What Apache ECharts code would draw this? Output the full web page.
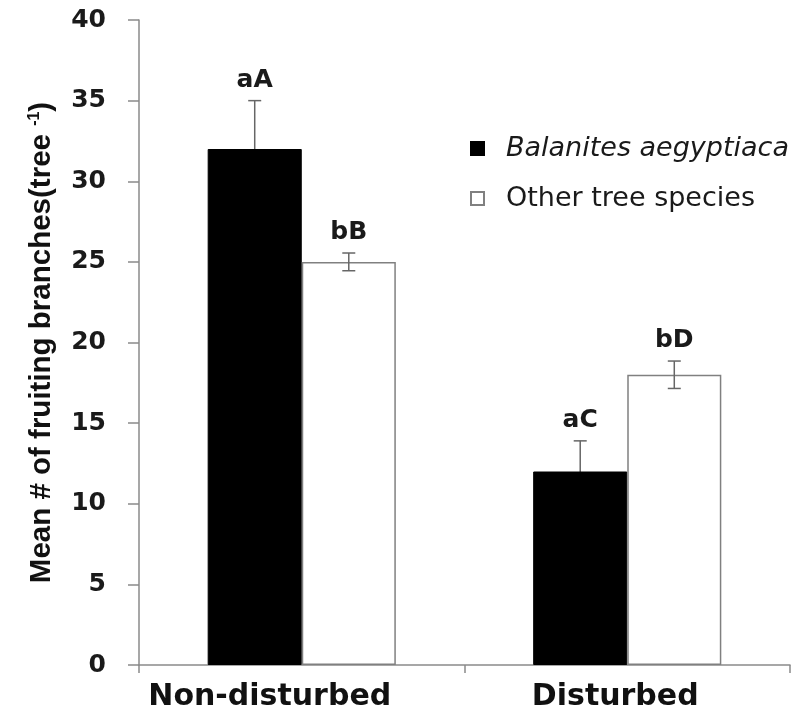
<!DOCTYPE html>
<html>
<head>
<meta charset="utf-8">
<script src="https://cdn.jsdelivr.net/npm/echarts@6/dist/echarts.min.js"></script>
<style>
  html, body { margin: 0; padding: 0; background: #fff; }
  #chart { width: 796px; height: 711px; }
</style>
</head>
<body>
<div id="chart"></div>
<script>
const categories = ['Non-disturbed', 'Disturbed'];
const balanitesMeans = [32, 12];
const balanitesErrors = [3, 1.9];
const otherMeans = [25, 18];
const otherErrors = [0.55, 0.85];
const balanitesLetters = ['aA', 'aC'];
const otherLetters = ['bB', 'bD'];
const yMin = 0, yMax = 40, yInterval = 5;

const BAR_FRAC = 0.289;
const AXIS_COLOR = '#8a8a8a';
const ERR_COLOR = '#666';

function errRender(sign, letters, both) {
  return function (params, api) {
    const i = api.value(0);
    const mean = api.value(1);
    const err = api.value(2);
    const band = api.size([1, 0])[0];
    const cx = api.coord([i, mean])[0] + sign * band * BAR_FRAC / 2;
    const yTop = api.coord([i, mean + err])[1];
    const yBot = api.coord([i, both ? mean - err : mean])[1];
    const cap = 6.5;
    const ls = { stroke: ERR_COLOR, lineWidth: 1.5 };
    const children = [
      { type: 'line', shape: { x1: cx, y1: yTop, x2: cx, y2: yBot }, style: ls },
      { type: 'line', shape: { x1: cx - cap, y1: yTop, x2: cx + cap, y2: yTop }, style: ls },
      { type: 'text', style: { text: letters[params.dataIndex], x: cx, y: yTop - 8,
          align: 'center', verticalAlign: 'bottom', fontSize: 25, fontWeight: 'bold',
          fontFamily: 'DejaVu Sans', fill: '#1a1a1a' } }
    ];
    if (both) {
      children.push({ type: 'line', shape: { x1: cx - cap, y1: yBot, x2: cx + cap, y2: yBot }, style: ls });
    }
    return { type: 'group', children: children };
  };
}

const chart = echarts.init(document.getElementById('chart'), null, { renderer: 'canvas' });
chart.setOption({
  backgroundColor: '#fff',
  animation: false,
  grid: { left: 139, right: 6, top: 20, bottom: 46, containLabel: false, outerBoundsMode: 'none' },
  legend: {
    orient: 'vertical',
    left: 465, top: 130,
    itemWidth: 13, itemHeight: 13,
    itemGap: 23,
    icon: 'rect',
    data: ['Balanites aegyptiaca', 'Other tree species'],
    formatter: function (name) {
      return name === 'Balanites aegyptiaca' ? '{it|' + name + '}' : '{nm|' + name + '}';
    },
    textStyle: {
      rich: {
        it: { fontFamily: 'DejaVu Sans', fontStyle: 'italic', fontSize: 27, color: '#1a1a1a', padding: [0, 0, 0, 17], lineHeight: 27 },
        nm: { fontFamily: 'DejaVu Sans', fontSize: 27, color: '#1a1a1a', padding: [0, 0, 0, 17], lineHeight: 27 }
      }
    }
  },
  xAxis: {
    type: 'category',
    data: categories,
    axisLine: { lineStyle: { color: AXIS_COLOR, width: 1.5 } },
    axisTick: { show: true, length: 8, lineStyle: { color: AXIS_COLOR, width: 1.5 } },
    axisLabel: {
      margin: 17,
      formatter: function (v, idx) {
        return idx === 0 ? '{n|' + v + '}' : '{d|' + v + '}';
      },
      rich: {
        n: { fontFamily: 'DejaVu Sans', fontWeight: 'bold', fontSize: 30, color: '#111', padding: [0, 64, 0, 0] },
        d: { fontFamily: 'DejaVu Sans', fontWeight: 'bold', fontSize: 30, color: '#111', padding: [0, 24, 0, 0] }
      }
    }
  },
  yAxis: {
    type: 'value',
    min: yMin, max: yMax, interval: yInterval,
    name: '{t|Mean # of fruiting branches(tree }{s|-1}{t|)}',
    nameLocation: 'middle',
    nameGap: 82,
    nameRotate: 90,
    nameTextStyle: {
      rich: {
        t: { fontFamily: 'Liberation Sans', fontWeight: 'bold', fontSize: 29.5, color: '#111' },
        s: { fontFamily: 'Liberation Sans', fontWeight: 'bold', fontSize: 16, color: '#111', verticalAlign: 'top', padding: [0, 0, 14, 0] }
      }
    },
    splitLine: { show: false },
    axisLine: { show: true, lineStyle: { color: AXIS_COLOR, width: 1.5 } },
    axisTick: { show: true, length: 11, lineStyle: { color: AXIS_COLOR, width: 1.5 } },
    axisLabel: { margin: 33, fontFamily: 'DejaVu Sans', fontWeight: 'bold', fontSize: 25, color: '#1a1a1a' }
  },
  series: [
    {
      name: 'Balanites aegyptiaca',
      type: 'bar',
      data: balanitesMeans,
      barWidth: (BAR_FRAC * 100) + '%',
      barGap: '0%',
      z: 2,
      itemStyle: { color: '#000', borderColor: '#000', borderWidth: 1 }
    },
    {
      name: 'Other tree species',
      type: 'bar',
      data: otherMeans,
      barWidth: (BAR_FRAC * 100) + '%',
      barGap: '0%',
      z: 2,
      itemStyle: { color: '#fff', borderColor: '#808080', borderWidth: 1.5 }
    },
    {
      type: 'custom',
      z: 1,
      silent: true,
      renderItem: errRender(-1, balanitesLetters, true),
      data: categories.map((c, i) => [i, balanitesMeans[i], balanitesErrors[i]])
    },
    {
      type: 'custom',
      z: 3,
      silent: true,
      renderItem: errRender(1, otherLetters, true),
      data: categories.map((c, i) => [i, otherMeans[i], otherErrors[i]])
    }
  ]
});
</script>
</body>
</html>
